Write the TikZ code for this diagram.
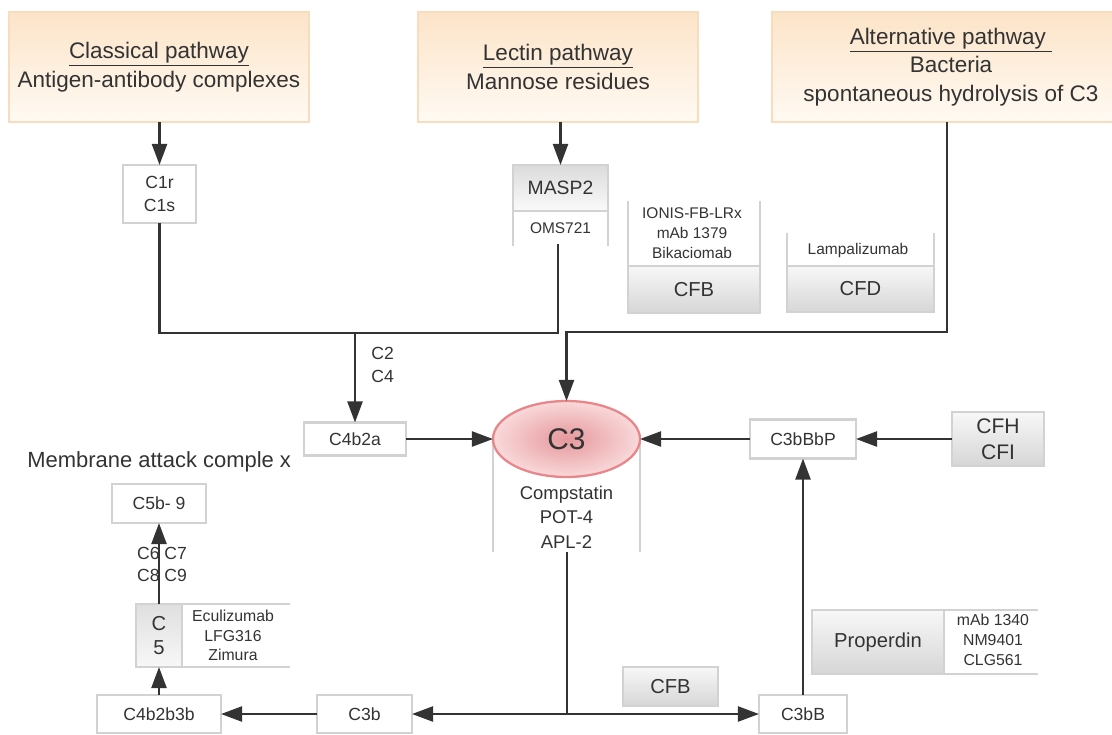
\documentclass[tikz,border=0pt]{standalone}
\usepackage{fontspec}
\setmainfont{Liberation Sans}
\usepackage{xcolor}
\usetikzlibrary{arrows.meta,positioning,shapes.geometric}
\definecolor{ink}{HTML}{333333}
\definecolor{frame}{HTML}{D2D2D2}
\definecolor{pathtop}{HTML}{FCE4C8}
\definecolor{pathbot}{HTML}{FFFAF3}
\definecolor{pathedge}{HTML}{F7DCBE}
\definecolor{cthreein}{HTML}{E6989C}
\definecolor{cthreeout}{HTML}{F9D9DA}
\definecolor{cthreeedge}{HTML}{E8868A}

\begin{document}
\begin{tikzpicture}[x=0.02cm, y=-0.02cm,
    pathbox/.style={draw=pathedge, line width=1.2pt, top color=pathtop, bottom color=pathbot, align=center, inner sep=0pt, outer sep=0pt, text=ink, font=\fontsize{12.8}{16.3}\selectfont},
    plainbox/.style={draw=frame, line width=1.3pt, fill=white, align=center, inner sep=0pt, outer sep=0pt, text=ink, font=\fontsize{10}{13}\selectfont},
    greybox/.style={draw=frame, line width=1.3pt, top color=gray!6, bottom color=gray!32, align=center, inner sep=0pt, outer sep=0pt, text=ink, font=\fontsize{11.5}{14.7}\selectfont},
    druglist/.style={align=center, inner sep=0pt, text=ink, font=\fontsize{8.8}{11.3}\selectfont},
    rim/.style={draw=frame, line width=1.3pt},
    flow/.style={draw=ink, line width=1.5pt, -{Triangle[length=12pt,width=8.5pt]}},
    link/.style={draw=ink, line width=1.5pt}]
    \useasboundingbox (0,0) rectangle (1112,734);

    % Pathways
    \node[pathbox, minimum width=6cm, minimum height=2.2cm] (classical) at (159,67) {\underline{Classical pathway}\\Antigen-antibody complexes};
    \node[pathbox, minimum width=5.6cm, minimum height=2.2cm] (lectin) at (558,67) {\underline{Lectin pathway}\\Mannose residues};
    \node[pathbox, minimum width=7.16cm, minimum height=2.2cm] (alternative) at (951,67) {\underline{Alternative pathway\ }\\Bacteria\\spontaneous hydrolysis of C3};

    % Classical branch
    \node[plainbox, minimum width=1.46cm, minimum height=1.16cm] (c1) at (159.5,194) {C1r\\C1s};
    \draw[flow] (classical.south -| c1.north) -- (c1.north);

    % Lectin branch
    \node[greybox, top color=gray!28, bottom color=gray!4, minimum width=1.9cm, minimum height=0.92cm, font=\fontsize{11}{13}\selectfont] (masp) at (560.5,188) {MASP2};
    \node[druglist] (oms) at (560.5,228) {OMS721};
    \draw[rim] (masp.south west) -- ++(0,35);
    \draw[rim] (masp.south east) -- ++(0,35);
    \draw[flow] (lectin.south -| masp.north) -- (masp.north);

    % Join towards C4b2a
    \coordinate (maspout) at (558,244);
    \coordinate (join) at (558,333);
    \coordinate (split) at (355,333);
    \draw[link] (c1.south) |- (join) -- (maspout);
    \node[plainbox, minimum width=2.04cm, minimum height=0.66cm] (c4b2a) at (355,439) {C4b2a};
    \draw[flow] (split) -- (c4b2a.north);
    \node[anchor=west, align=left, inner sep=0pt, text=ink, font=\fontsize{10}{13}\selectfont] (ctwo) at (371,365) {C2\\C4};

    % C3 and its inhibitors
    \draw[rim] (493,439) -- (493,552);
    \draw[rim] (640,439) -- (640,552);
    \node[ellipse, draw=cthreeedge, line width=1.3pt, inner color=cthreein, outer color=cthreeout, minimum width=2.94cm, minimum height=1.52cm, inner sep=0pt, outer sep=0pt, text=ink, font=\fontsize{17}{20}\selectfont] (c3) at (566.5,439) {C3};
    \node[druglist, font=\fontsize{10.5}{13.9}\selectfont] (cdrug) at (566.5,517) {Compstatin\\POT-4\\APL-2};
    \draw[flow] (c4b2a.east) -- (c3.west);

    % Alternative branch
    \coordinate (altbend) at (947,332);
    \draw[flow] (alternative.south -| altbend) -- (altbend) -| (c3.north);

    % CFB and CFD
    \node[greybox, minimum width=2.64cm, minimum height=0.94cm] (cfbtop) at (694,289.5) {CFB};
    \node[druglist] (cfbdrug) at (692,233) {IONIS-FB-LRx\\mAb 1379\\Bikaciomab};
    \draw[rim] (cfbtop.north west) -- ++(0,-65);
    \draw[rim] (cfbtop.north east) -- ++(0,-65);
    \node[greybox, minimum width=2.94cm, minimum height=0.92cm] (cfd) at (860.5,289) {CFD};
    \node[druglist] (cfddrug) at (858,250) {Lampalizumab};
    \draw[rim] (cfd.north west) -- ++(0,-33);
    \draw[rim] (cfd.north east) -- ++(0,-33);

    % Bottom row
    \coordinate (c3out) at (567,552);
    \coordinate (fork) at (567,714);
    \node[plainbox, minimum width=1.9cm, minimum height=0.76cm] (c3b) at (364.5,714) {C3b};
    \node[plainbox, minimum width=2.48cm, minimum height=0.76cm] (c4b2b3b) at (159,714) {C4b2b3b};
    \node[plainbox, minimum width=1.76cm, minimum height=0.76cm] (c3bb) at (803,714) {C3bB};
    \draw[link] (c3out) -- (fork);
    \draw[flow] (fork) -- (c3b.east);
    \draw[flow] (fork) -- (c3bb.west);
    \draw[flow] (c3b.west) -- (c4b2b3b.east);
    \node[greybox, minimum width=1.9cm, minimum height=0.78cm] (cfbbot) at (670.5,686.5) {CFB};

    % C5 and membrane attack complex
    \node[greybox, top color=gray!25, bottom color=gray!6, minimum width=0.92cm, minimum height=1.26cm, font=\fontsize{11.5}{13.6}\selectfont] (c5) at (159,635.5) {C\\5};
    \draw[rim] (c5.north east) -- ++(108,0);
    \draw[rim] (c5.south east) -- ++(108,0);
    \node[druglist, font=\fontsize{9}{11}\selectfont] (c5drug) at (233,635.5) {Eculizumab\\LFG316\\Zimura};
    \draw[flow] (c4b2b3b.north) -- (c5.south);
    \node[plainbox, minimum width=1.88cm, minimum height=0.78cm] (mac) at (159,503.5) {C5b- 9};
    \node[align=center, inner sep=0pt, text=ink, font=\fontsize{10}{12.5}\selectfont] (csix) at (162,564) {C6 C7\\C8 C9};
    \draw[flow] (c5.north) -- (mac.south);
    \node[anchor=west, inner sep=0pt, text=ink, font=\fontsize{12.5}{15}\selectfont] (macname) at (27,462) {Membrane attack comple x};

    % Right side
    \node[plainbox, minimum width=2.12cm, minimum height=0.78cm] (c3bbbp) at (803,439) {C3bBbP};
    \node[greybox, minimum width=1.84cm, minimum height=1.08cm, font=\fontsize{12}{14.7}\selectfont] (cfh) at (998,439) {CFH\\CFI};
    \draw[flow] (cfh.west) -- (c3bbbp.east);
    \draw[flow] (c3bbbp.west) -- (c3.east);
    \draw[flow] (c3bb.north) -- (c3bbbp.south);
    \node[greybox, minimum width=2.64cm, minimum height=1.28cm] (properdin) at (878,642) {Properdin};
    \draw[rim] (properdin.north east) -- ++(94,0);
    \draw[rim] (properdin.south east) -- ++(94,0);
    \node[druglist, font=\fontsize{9}{11.3}\selectfont] (propdrug) at (993,640) {mAb 1340\\NM9401\\CLG561};
\end{tikzpicture}
\end{document}
